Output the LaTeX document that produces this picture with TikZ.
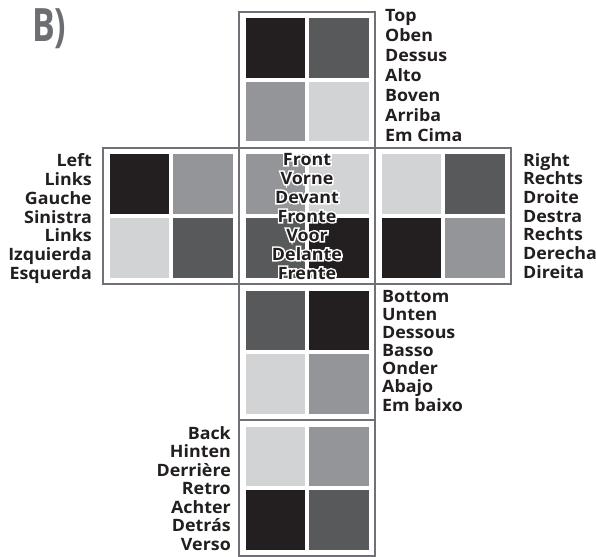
\documentclass[tikz,border=0pt]{standalone}
\usepackage{fontspec}
\setmainfont{Open Sans}[FakeStretch=1.05]
\newfontfamily\halofont{Open Sans}[FakeStretch=1.05,BoldFeatures={FakeBold=18}]
\definecolor{cA}{HTML}{231F20}
\definecolor{cB}{HTML}{58595B}
\definecolor{cC}{HTML}{939598}
\definecolor{cD}{HTML}{D1D3D4}
\definecolor{frameC}{HTML}{736F78}
\definecolor{titleC}{HTML}{6D6E71}
\newcommand\cubeface[6]{%
  \fill[#3] (#1+6.5,#2+6.5) rectangle ++(59.5,59.5);
  \fill[#4] (#1+70,#2+6.5) rectangle ++(59.5,59.5);
  \fill[#5] (#1+6.5,#2+70) rectangle ++(59.5,59.5);
  \fill[#6] (#1+70,#2+70) rectangle ++(59.5,59.5);
  \draw[faceframe] (#1,#2) rectangle ++(136,136);
}
\newcommand\lblfont[1]{\bfseries\fontsize{17}{#1}\selectfont}
\newcommand\frontwords{\begin{tabular}[t]{@{}c@{}}Front\\Vorne\\Devant\\Fronte\\Voor\\Delante\\Frente\end{tabular}}
\begin{document}
\begin{tikzpicture}[x=1pt,y=-1pt,
  faceframe/.style={draw=frameC,line width=1.2pt},
  lbl/.style={inner sep=0pt,text=cA}]
\useasboundingbox (0,0) rectangle (596,556);
\cubeface{239}{12}{cA}{cB}{cC}{cD}
\cubeface{103}{148}{cA}{cC}{cD}{cB}
\cubeface{239}{148}{cC}{cD}{cB}{cA}
\cubeface{375}{148}{cD}{cB}{cA}{cC}
\cubeface{239}{284}{cB}{cA}{cD}{cC}
\cubeface{239}{420}{cD}{cC}{cA}{cB}
\node[lbl,anchor=base west,text=titleC,font=\bfseries\fontsize{46}{50}\selectfont] (title) at (32,42) {\scalebox{0.7}[1]{B)}};
\node[lbl,anchor=base west,font=\lblfont{20}] (toplbl) at (385,22)
  {\begin{tabular}[t]{@{}l@{}}Top\\Oben\\Dessus\\Alto\\Boven\\Arriba\\Em Cima\end{tabular}};
\node[lbl,anchor=base east,font=\lblfont{18.7}] (leftlbl) at (92,167)
  {\begin{tabular}[t]{@{}r@{}}Left\\Links\\Gauche\\Sinistra\\Links\\Izquierda\\Esquerda\end{tabular}};
\node[lbl,anchor=base,text=white,font=\halofont\lblfont{19}] (fronthalo) at (307,165) {\frontwords};
\node[lbl,anchor=base,font=\lblfont{19}] (frontlbl) at (307,165) {\frontwords};
\node[lbl,anchor=base west,font=\lblfont{18.7}] (rightlbl) at (523,166)
  {\begin{tabular}[t]{@{}l@{}}Right\\Rechts\\Droite\\Destra\\Rechts\\Derecha\\Direita\end{tabular}};
\node[lbl,anchor=base west,font=\lblfont{17.9}] (bottomlbl) at (382,302.5)
  {\begin{tabular}[t]{@{}l@{}}Bottom\\Unten\\Dessous\\Basso\\Onder\\Abajo\\Em baixo\end{tabular}};
\node[lbl,anchor=base east,font=\lblfont{18.5}] (backlbl) at (231,439)
  {\begin{tabular}[t]{@{}r@{}}Back\\Hinten\\Derrière\\Retro\\Achter\\Detrás\\Verso\end{tabular}};
\end{tikzpicture}
\end{document}
